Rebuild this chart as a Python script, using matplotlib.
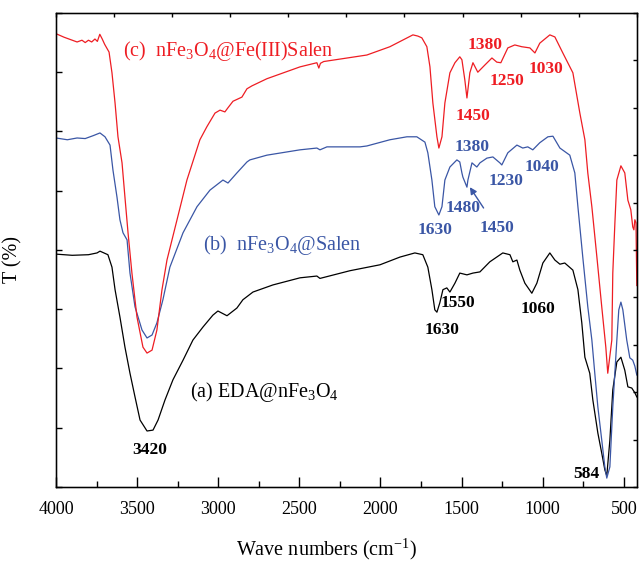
import matplotlib
matplotlib.use('Agg')
import matplotlib.pyplot as plt
from matplotlib.ticker import MultipleLocator, NullFormatter

plt.rcParams['font.family'] = ['Liberation Serif', 'DejaVu Serif']
plt.rcParams['mathtext.fontset'] = 'custom'
plt.rcParams['mathtext.rm'] = 'Liberation Serif'
plt.rcParams['mathtext.it'] = 'Liberation Serif:italic'
plt.rcParams['mathtext.bf'] = 'Liberation Serif:bold'
plt.rcParams['mathtext.default'] = 'regular'

# (a) EDA@nFe3O4 - black
wn_a = [4000, 3900, 3800, 3747, 3729, 3680, 3655, 3636, 3606, 3575, 3544, 3513, 3482,
        3439, 3402, 3371, 3328, 3279, 3217, 3156, 3094, 3033, 3002, 2946, 2885, 2848,
        2786, 2663, 2496, 2392, 2373, 2188, 2003, 1880, 1788, 1739, 1708, 1683, 1665,
        1652, 1634, 1615, 1591, 1572, 1541, 1511, 1467, 1430, 1387, 1326, 1246, 1202,
        1184, 1159, 1141, 1110, 1067, 1036, 999, 956, 925, 894, 864, 814, 783, 759,
        740, 710, 691, 660, 636, 617, 605, 586, 568, 543, 518, 494, 475, 451, 432, 420]
t_a = [39.3, 39.1, 39.2, 39.5, 39.8, 39.2, 37.1, 33.3, 28.7, 23.6, 19.2, 15.2, 11.3,
       9.45, 9.6, 11.3, 14.7, 18.1, 21.4, 24.8, 27.0, 29.0, 29.7, 28.9, 30.2, 31.6,
       32.9, 34.1, 35.3, 35.6, 35.2, 36.5, 37.5, 38.8, 39.5, 39.2, 37.1, 33.3, 29.9,
       29.5, 31.1, 33.3, 33.6, 32.9, 34.4, 36.1, 35.8, 36.1, 36.3, 38.0, 39.5, 39.2,
       38.0, 38.3, 36.6, 34.4, 32.7, 34.4, 37.8, 39.5, 38.3, 37.6, 37.8, 36.6, 33.3,
       27.7, 21.9, 19.2, 14.7, 9.1, 5.7, 2.9, 1.9, 7.9, 16.4, 21.1, 21.9, 19.7, 16.9,
       16.7, 15.9, 15.2]

# (b) nFe3O4@Salen - blue
wn_b = [4000, 3930, 3870, 3820, 3770, 3729, 3698, 3667, 3649, 3624, 3606, 3587, 3562,
        3544, 3513, 3470, 3439, 3408, 3378, 3341, 3298, 3217, 3131, 3051, 2971, 2940,
        2885, 2823, 2805, 2700, 2496, 2392, 2373, 2330, 2126, 2084, 1942, 1837, 1776,
        1726, 1708, 1683, 1665, 1640, 1621, 1603, 1572, 1529, 1511, 1498, 1492, 1467,
        1461, 1436, 1406, 1387, 1344, 1307, 1264, 1252, 1215, 1159, 1123, 1092, 1061,
        1018, 968, 937, 894, 833, 802, 783, 753, 722, 697, 679, 660, 636, 617, 605,
        586, 568, 543, 531, 518, 506, 482, 463, 445, 432, 420]
t_b = [58.9, 58.6, 58.9, 58.8, 59.3, 59.75, 59.1, 57.7, 53.5, 48.9, 45.1, 42.9, 41.7,
       36.1, 30.4, 26.5, 25.15, 25.65, 27.7, 31.6, 37.1, 42.9, 47.3, 50.1, 51.8, 51.3,
       53.0, 54.85, 55.2, 56.0, 56.9, 57.2, 56.9, 57.4, 57.4, 57.55, 58.6, 59.1, 59.1,
       58.2, 56.4, 51.8, 47.3, 45.9, 47.3, 51.8, 54.0, 55.2, 54.85, 53.0, 52.3, 50.6,
       51.8, 54.7, 54.0, 54.7, 55.5, 55.7, 54.7, 54.35, 56.4, 57.7, 57.2, 57.4, 56.9,
       58.1, 59.1, 59.2, 57.2, 56.0, 53.0, 47.3, 38.8, 30.4, 24.8, 19.2, 13.5, 7.9,
       3.4, 1.5, 3.4, 13.5, 24.8, 29.9, 31.2, 29.9, 24.8, 21.8, 21.4, 20.4, 18.9]

# (c) nFe3O4@Fe(III)Salen - red
wn_c = [4000, 3950, 3900, 3870, 3840, 3820, 3800, 3780, 3760, 3745, 3730, 3715, 3700,
        3673, 3655, 3636, 3618, 3593, 3575, 3556, 3532, 3501, 3464, 3439, 3408, 3378,
        3347, 3316, 3285, 3254, 3193, 3113, 3070, 3020, 2989, 2959, 2940, 2909, 2854,
        2823, 2792, 2700, 2496, 2392, 2380, 2370, 2350, 2084, 1942, 1800, 1770, 1745,
        1714, 1695, 1677, 1652, 1640, 1621, 1603, 1572, 1541, 1511, 1498, 1480, 1467,
        1449, 1430, 1400, 1357, 1313, 1283, 1258, 1215, 1172, 1129, 1079, 1048, 1018,
        956, 925, 876, 814, 771, 740, 722, 697, 666, 636, 611, 599, 574, 568, 555, 543,
        518, 494, 475, 457, 445, 438, 432, 425, 420]
t_c = [76.5, 75.9, 75.4, 75.1, 75.4, 75.0, 75.4, 75.1, 75.6, 75.2, 76.4, 75.6, 74.7,
       73.4, 69.9, 64.8, 59.1, 54.7, 48.9, 42.9, 36.1, 28.7, 23.6, 22.6, 23.1, 26.5,
       33.25, 38.3, 41.7, 45.1, 51.8, 58.6, 60.8, 63.1, 63.6, 63.3, 64.0, 65.1, 65.8,
       67.2, 67.7, 68.9, 70.9, 71.6, 70.7, 71.5, 71.8, 72.9, 74.3, 76.3, 76.1, 75.8,
       74.3, 70.9, 64.8, 59.1, 57.2, 59.1, 64.8, 69.9, 71.6, 72.6, 72.1, 68.7, 65.65,
       69.9, 71.6, 70.0, 71.2, 72.4, 71.7, 71.6, 74.1, 74.6, 74.3, 74.1, 73.25, 74.9,
       76.3, 75.95, 73.25, 69.9, 63.1, 58.6, 53.0, 47.3, 38.8, 30.4, 23.6, 19.2, 24.8,
       36.1, 44.6, 51.8, 54.2, 53.0, 48.4, 46.8, 43.9, 43.4, 45.1, 44.6, 34.0]

red = '#ee1d23'
blue = '#3a56a5'
black = '#000000'

peaks_c = [('1380', 1357, 74.6), ('1250', 1221, 68.5), ('1030', 981, 70.5), ('1450', 1430, 62.6)]
peaks_b = [('1380', 1436, 57.4), ('1230', 1227, 51.6), ('1040', 1005, 54.0),
           ('1630', 1665, 43.4), ('1480', 1492, 47.1)]
peaks_a = [('3420', 3421, 6.2), ('1630', 1621, 26.5), ('1550', 1523, 31.1),
           ('1060', 1030, 30.0), ('584', 728, 2.2)]

fig = plt.figure(figsize=(6.4, 5.63), dpi=100)
ax = fig.add_axes([0.0875, 0.135, 0.9075, 0.842])

ax.plot(wn_a, t_a, color=black, lw=0.9)
ax.plot(wn_b, t_b, color=blue, lw=0.9)
ax.plot(wn_c, t_c, color=red, lw=0.9)

ax.set_xlim(4000, 420)
ax.set_ylim(0, 80)
ax.xaxis.set_major_locator(MultipleLocator(500))
ax.xaxis.set_minor_locator(MultipleLocator(250))
ax.yaxis.set_major_locator(MultipleLocator(10))
ax.yaxis.set_major_formatter(NullFormatter())
ax.tick_params(axis='x', which='major', direction='in', length=7, width=1, labelsize=13, pad=10)
ax.tick_params(axis='x', which='minor', direction='in', length=4, width=1)
ax.tick_params(axis='y', which='major', direction='in', length=4, width=1)
for s in ax.spines.values():
    s.set_linewidth(1.0)

# top and right frames carry their own evenly spaced ticks
top = ax.twiny()
top.set_xlim(0, 10)
top.xaxis.set_major_locator(MultipleLocator(1))
top.xaxis.set_major_formatter(NullFormatter())
top.tick_params(direction='in', length=3, width=1)
right = ax.twinx()
right.set_ylim(0, 10)
right.yaxis.set_major_locator(MultipleLocator(1))
right.yaxis.set_major_formatter(NullFormatter())
right.tick_params(direction='in', length=3, width=1)

ax.set_xlabel('Wave numbers (cm$^{-1}$)', fontsize=14.5)
ax.xaxis.set_label_coords(0.466, -0.104)
ax.set_ylabel('T (%)', fontsize=14.5)
ax.yaxis.set_label_coords(-0.058, 0.48)

ax.text(3587, 73.5, '(c)  nFe$_3$O$_4$@Fe(III)Salen', color=red, fontsize=14.5, va='center')
ax.text(3094, 40.8, '(b)  nFe$_3$O$_4$@Salen', color=blue, fontsize=14.5, va='center')
ax.text(3174, 16.0, '(a) EDA@nFe$_3$O$_4$', color=black, fontsize=14.5, va='center')

for lab, x, y in peaks_c:
    ax.text(x, y, lab, color=red, fontsize=12.5, fontweight='bold', ha='center', va='center')
for lab, x, y in peaks_b:
    ax.text(x, y, lab, color=blue, fontsize=12.5, fontweight='bold', ha='center', va='center')
for lab, x, y in peaks_a:
    ax.text(x, y, lab, color=black, fontsize=12.5, fontweight='bold', ha='center', va='center')

ax.annotate('1450', xy=(1449, 50.6), xytext=(1283, 43.7), color=blue, fontsize=12.5,
            fontweight='bold', ha='center', va='center',
            arrowprops=dict(arrowstyle='-|>', color=blue, lw=1.0, shrinkA=8, shrinkB=0,
                            mutation_scale=10))

fig.savefig('out.png', dpi=100)
